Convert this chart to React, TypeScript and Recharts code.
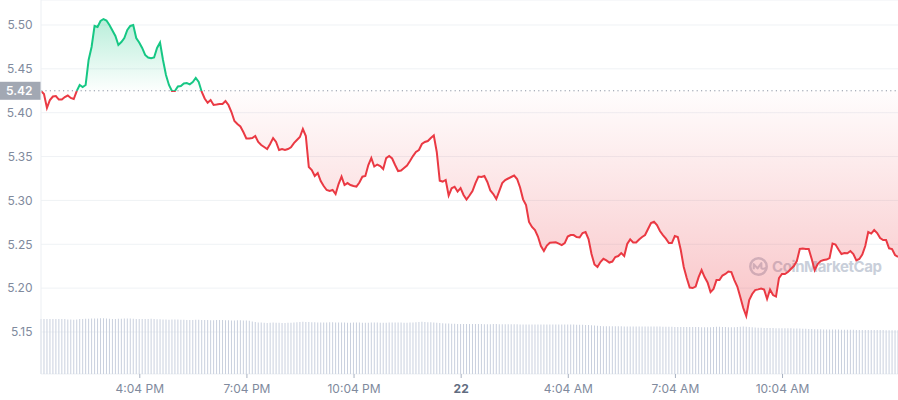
import { Area, Bar, CartesianGrid, ComposedChart, ReferenceLine, XAxis, YAxis } from "recharts"

// 5-minute price samples (USD)
const PRICE = [
  5.4247, 5.4213, 5.4054, 5.4145, 5.4185, 5.419, 5.415, 5.415, 5.4179, 5.4196,
  5.4168, 5.4156, 5.4247, 5.4316, 5.4293, 5.4316, 5.4601, 5.4749, 5.4989, 5.4977,
  5.5046, 5.5068, 5.5051, 5.5, 5.4937, 5.4875, 5.4772, 5.4806, 5.4852, 5.4943,
  5.4989, 5.5, 5.4852, 5.48, 5.4738, 5.4658, 5.4629, 5.462, 5.4629, 5.4738,
  5.48, 5.4601, 5.443, 5.4316, 5.4247, 5.4247, 5.4299, 5.4304, 5.4333, 5.4339,
  5.4324, 5.435, 5.4396, 5.435, 5.4239, 5.4162, 5.4114, 5.4145, 5.4088, 5.4093,
  5.4099, 5.4099, 5.4133, 5.4088, 5.4008, 5.3905, 5.3871, 5.3843, 5.378, 5.3706,
  5.3706, 5.3711, 5.3734, 5.3666, 5.3632, 5.3609, 5.3586, 5.3643, 5.3711, 5.3666,
  5.3575, 5.3586, 5.3575, 5.3586, 5.3605, 5.3654, 5.3689, 5.3723, 5.3814, 5.3734,
  5.3381, 5.3347, 5.3278, 5.3312, 5.3221, 5.3164, 5.3119, 5.3107, 5.3119, 5.3073,
  5.3187, 5.3272, 5.3176, 5.3198, 5.3176, 5.3164, 5.3158, 5.3204, 5.327, 5.3278,
  5.3404, 5.3483, 5.3386, 5.3409, 5.3392, 5.3358, 5.3483, 5.3506, 5.3478, 5.3404,
  5.3335, 5.3341, 5.3369, 5.3398, 5.3449, 5.3506, 5.3552, 5.3575, 5.3643, 5.3666,
  5.3677, 5.3711, 5.374, 5.3552, 5.3225, 5.3215, 5.3233, 5.3056, 5.3138, 5.3156,
  5.3101, 5.3141, 5.3062, 5.301, 5.3056, 5.3107, 5.3198, 5.3272, 5.3267, 5.3278,
  5.321, 5.3113, 5.3073, 5.3016, 5.3107, 5.3198, 5.3233, 5.325, 5.3267, 5.3284,
  5.3244, 5.3147, 5.3012, 5.2947, 5.2754, 5.2697, 5.2662, 5.2588, 5.248, 5.2423,
  5.2486, 5.2518, 5.252, 5.2522, 5.2508, 5.2491, 5.2514, 5.2588, 5.2605, 5.2605,
  5.2583, 5.2577, 5.2628, 5.264, 5.256, 5.2389, 5.2269, 5.2241, 5.2298, 5.2334,
  5.2317, 5.2292, 5.2303, 5.2355, 5.2366, 5.24, 5.2366, 5.2503, 5.2556, 5.252,
  5.252, 5.2554, 5.2583, 5.2605, 5.2674, 5.2742, 5.2757, 5.2719, 5.2651, 5.2605,
  5.2565, 5.2514, 5.2514, 5.2594, 5.2583, 5.2434, 5.2241, 5.2115, 5.2007, 5.2001,
  5.2018, 5.2126, 5.2206, 5.2126, 5.2064, 5.1955, 5.199, 5.2092, 5.2092, 5.2144,
  5.2161, 5.2189, 5.2183, 5.2092, 5.2018, 5.1898, 5.1773, 5.1682, 5.1864, 5.1933,
  5.1978, 5.1986, 5.1995, 5.1984, 5.1876, 5.1984, 5.1921, 5.1904, 5.2115, 5.2161,
  5.2161, 5.2183, 5.2218, 5.2252, 5.2309, 5.2446, 5.2451, 5.2446, 5.2446, 5.2332,
  5.2206, 5.2275, 5.2309, 5.232, 5.2326, 5.2343, 5.2508, 5.2497, 5.244, 5.2389,
  5.24, 5.2398, 5.2423, 5.2389, 5.2315, 5.2332, 5.2383, 5.248, 5.264, 5.2622,
  5.2662, 5.2628, 5.2571, 5.2548, 5.2548, 5.2454, 5.2446, 5.2377, 5.2355,
]

// volume per sample (arbitrary units)
const VOLUME = [
  5.5, 5.5, 5.5, 5.5, 5.5, 5.5, 5.5, 5.5, 5.5, 5.45,
  5.45, 5.42, 5.45, 5.5, 5.5, 5.52, 5.52, 5.55, 5.55, 5.55,
  5.58, 5.58, 5.55, 5.52, 5.5, 5.5, 5.52, 5.52, 5.55, 5.55,
  5.55, 5.52, 5.5, 5.5, 5.5, 5.5, 5.5, 5.52, 5.5, 5.48,
  5.48, 5.45, 5.45, 5.42, 5.45, 5.45, 5.45, 5.42, 5.42, 5.4,
  5.4, 5.4, 5.42, 5.42, 5.4, 5.4, 5.4, 5.38, 5.38, 5.4,
  5.4, 5.4, 5.38, 5.38, 5.35, 5.35, 5.38, 5.38, 5.35, 5.35,
  5.32, 5.25, 5.2, 5.15, 5.15, 5.12, 5.1, 5.12, 5.15, 5.12,
  5.12, 5.1, 5.1, 5.12, 5.12, 5.15, 5.18, 5.2, 5.22, 5.2,
  5.2, 5.18, 5.18, 5.15, 5.15, 5.15, 5.15, 5.18, 5.18, 5.15,
  5.15, 5.15, 5.15, 5.12, 5.12, 5.15, 5.15, 5.15, 5.12, 5.12,
  5.12, 5.15, 5.15, 5.15, 5.12, 5.12, 5.12, 5.15, 5.15, 5.15,
  5.15, 5.15, 5.12, 5.12, 5.15, 5.15, 5.18, 5.2, 5.22, 5.2,
  5.18, 5.18, 5.15, 5.12, 5.1, 5.08, 5.05, 5.05, 5.02, 5.02,
  5.0, 5.0, 5.0, 5.0, 5.0, 5.0, 5.0, 5.0, 5.0, 4.98,
  4.98, 4.98, 5.0, 5.0, 4.98, 4.98, 4.98, 4.98, 4.98, 4.98,
  4.98, 4.95, 4.95, 4.95, 4.95, 4.95, 4.95, 4.95, 4.95, 4.95,
  4.95, 4.95, 4.95, 4.95, 4.95, 4.95, 4.95, 4.95, 4.95, 4.95,
  4.92, 4.92, 4.92, 4.9, 4.9, 4.88, 4.85, 4.82, 4.8, 4.78,
  4.78, 4.78, 4.78, 4.78, 4.78, 4.78, 4.75, 4.75, 4.75, 4.75,
  4.75, 4.75, 4.75, 4.75, 4.75, 4.75, 4.75, 4.75, 4.75, 4.72,
  4.72, 4.72, 4.72, 4.7, 4.7, 4.7, 4.7, 4.7, 4.7, 4.7,
  4.7, 4.7, 4.68, 4.68, 4.68, 4.68, 4.7, 4.72, 4.72, 4.7,
  4.7, 4.68, 4.68, 4.68, 4.7, 4.72, 4.75, 4.72, 4.7, 4.68,
  4.65, 4.62, 4.62, 4.6, 4.6, 4.6, 4.6, 4.58, 4.58, 4.58,
  4.58, 4.58, 4.58, 4.55, 4.55, 4.55, 4.52, 4.52, 4.5, 4.5,
  4.48, 4.48, 4.48, 4.45, 4.45, 4.45, 4.45, 4.45, 4.45, 4.42,
  4.42, 4.42, 4.42, 4.42, 4.4, 4.4, 4.4, 4.4, 4.4, 4.4,
  4.4, 4.4, 4.4, 4.4, 4.38, 4.38, 4.38, 4.38, 4.38,
]

const START_MIN = 798 // 13:18 on the 21st, minutes from midnight
const STEP_MIN = 5
const OPEN_PRICE = 5.425
const OPEN_LABEL = "5.42"
const PRICE_TICKS = [5.15, 5.2, 5.25, 5.3, 5.35, 5.4, 5.45, 5.5]
const TIME_TICKS = [964, 1144, 1324, 1504, 1684, 1864, 2044]
const TIME_LABELS = ["4:04 PM", "7:04 PM", "10:04 PM", "22", "4:04 AM", "7:04 AM", "10:04 AM"]

const GREEN = "#16c784"
const RED = "#ea3943"
const AXIS_TEXT = "#808a9d"
const FONT = "Inter, 'Noto Sans', sans-serif"

const W = 898
const H = 400
const X_AXIS_H = 26
const PLOT_H = H - X_AXIS_H
const Y_DOMAIN: [number, number] = [5.1021, 5.5285]
const VOL_DOMAIN: [number, number] = [0, 37.4]
const baseOffset = (Y_DOMAIN[1] - OPEN_PRICE) / (Y_DOMAIN[1] - Y_DOMAIN[0])

const data = PRICE.map((price, i) => ({
  t: START_MIN + i * STEP_MIN,
  price,
  vol: VOLUME[i],
}))

function TimeTick({ x, y, payload }: any) {
  const label = TIME_LABELS[TIME_TICKS.indexOf(payload.value)]
  const isDay = label === "22"
  return (
    <text
      x={x}
      y={y}
      dy="0.71em"
      textAnchor="middle"
      fontSize={12}
      fontFamily={FONT}
      fontWeight={isDay ? 700 : 400}
      fill={isDay ? "#616c80" : AXIS_TEXT}
    >
      {label}
    </text>
  )
}

function OpenLabel({ viewBox }: any) {
  const { x, y } = viewBox
  return (
    <g>
      <rect x={x - 41} y={y - 9} width={41} height={18} fill="#a2a8b3" />
      <text x={x - 8.5} y={y} dy="0.36em" textAnchor="end" fontSize={12} fontWeight={600} fontFamily={FONT} fill="#fff">
        {OPEN_LABEL}
      </text>
    </g>
  )
}

function Watermark() {
  return (
    <div
      style={{
        position: "absolute",
        left: 748,
        top: 256,
        display: "flex",
        alignItems: "center",
        gap: 3,
        color: "#c9cfda",
        fontFamily: FONT,
        fontWeight: 700,
        fontSize: 15,
        letterSpacing: -0.4,
        whiteSpace: "nowrap",
        zIndex: 0,
      }}
    >
      <svg width={21} height={21} viewBox="-11 -11 22 22">
        <circle cx={0} cy={0} r={8.6} fill="none" stroke="#c9cfda" strokeWidth={2.6} />
        <path d="M-5 3 L-5 -2.5 L-1 2 L3 -3.5 L3 1.5 Q5 3.5 9 1" fill="none" stroke="#c9cfda" strokeWidth={2.2} strokeLinejoin="round" />
      </svg>
      <span>CoinMarketCap</span>
    </div>
  )
}

export default function App() {
  return (
    <div style={{ position: "absolute", left: 0, top: 0, width: W, height: H, background: "#fff" }}>
      <Watermark />
      <div style={{ position: "relative", zIndex: 1 }}>
        <ComposedChart width={W} height={H} data={data} margin={{ top: 0, right: 0, bottom: 0, left: 0 }}>
          <defs>
            <linearGradient id="strokeSplit" gradientUnits="userSpaceOnUse" x1={0} y1={0} x2={0} y2={PLOT_H}>
              <stop offset={0} stopColor={GREEN} />
              <stop offset={baseOffset} stopColor={GREEN} />
              <stop offset={baseOffset} stopColor={RED} />
              <stop offset={1} stopColor={RED} />
            </linearGradient>
            <linearGradient id="fillSplit" gradientUnits="userSpaceOnUse" x1={0} y1={0} x2={0} y2={PLOT_H}>
              <stop offset={0.04} stopColor={GREEN} stopOpacity={0.32} />
              <stop offset={baseOffset} stopColor={GREEN} stopOpacity={0.01} />
              <stop offset={baseOffset} stopColor={RED} stopOpacity={0.01} />
              <stop offset={0.85} stopColor={RED} stopOpacity={0.3} />
              <stop offset={1} stopColor={RED} stopOpacity={0.3} />
            </linearGradient>
          </defs>
          <CartesianGrid vertical={false} stroke="#eff2f5" />
          <XAxis
            dataKey="t"
            type="number"
            domain={["dataMin", "dataMax"]}
            ticks={TIME_TICKS}
            interval={0}
            height={X_AXIS_H}
            axisLine={false}
            tickLine={{ stroke: "#a7b0c0" }}
            tickSize={4}
            tickMargin={6}
            tick={<TimeTick />}
          />
          <YAxis
            dataKey="price"
            domain={Y_DOMAIN}
            ticks={PRICE_TICKS}
            interval={0}
            width={41}
            allowDataOverflow
            axisLine={{ stroke: "#eceff3" }}
            tickLine={false}
            tickSize={0}
            tickMargin={8.5}
            tickFormatter={(v: number) => v.toFixed(2)}
            tick={{ fill: AXIS_TEXT, fontSize: 12, fontFamily: FONT }}
          />
          <YAxis yAxisId="vol" hide domain={VOL_DOMAIN} />
          <Bar yAxisId="vol" dataKey="vol" barSize={1} fill="#c9d0de" isAnimationActive={false} />
          <Area
            type="linear"
            dataKey="price"
            baseValue={OPEN_PRICE}
            stroke="url(#strokeSplit)"
            strokeWidth={2}
            fill="url(#fillSplit)"
            fillOpacity={1}
            dot={false}
            activeDot={false}
            isAnimationActive={false}
          />
          <ReferenceLine y={OPEN_PRICE} stroke="#8d94a3" strokeDasharray="1.2 3.2" label={OpenLabel} />
        </ComposedChart>
      </div>
    </div>
  )
}
